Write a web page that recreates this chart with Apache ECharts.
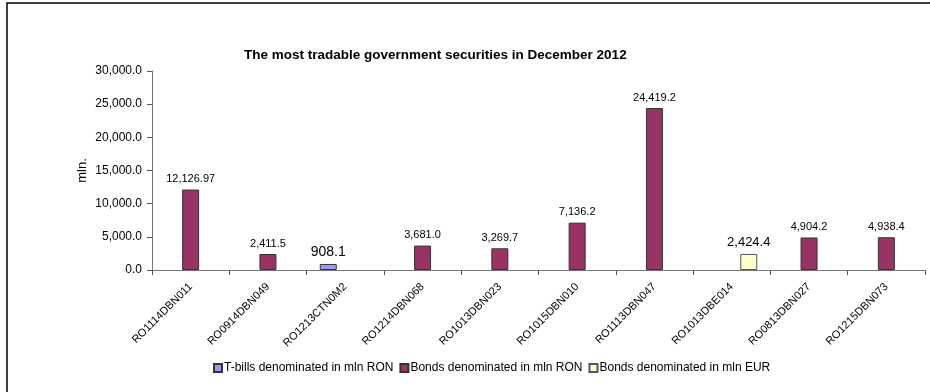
<!DOCTYPE html>
<html>
<head>
<meta charset="utf-8">
<script src="https://cdn.jsdelivr.net/npm/echarts@6/dist/echarts.min.js"></script>
<style>
  html, body { margin: 0; padding: 0; background: #fff; }
  #chart { width: 930px; height: 392px; }
</style>
</head>
<body>
<div id="chart"></div>
<script>
// Securities traded in December 2012 (mln.)
const categories = [
  'RO1114DBN011', 'RO0914DBN049', 'RO1213CTN0M2', 'RO1214DBN068', 'RO1013DBN023',
  'RO1015DBN010', 'RO1113DBN047', 'RO1013DBE014', 'RO0813DBN027', 'RO1215DBN073'
];
const seriesNames = [
  'T-bills denominated in mln RON',
  'Bonds denominated in mln RON',
  'Bonds denominated in mln EUR'
];
const tbillsRon = [null, null, 908.1, null, null, null, null, null, null, null];
const bondsRon = [12126.97, 2411.5, null, 3681.0, 3269.7, 7136.2, 24419.2, null, 4904.2, 4938.4];
const bondsEur = [null, null, null, null, null, null, null, 2424.4, null, null];
const yTicks = [0, 5000, 10000, 15000, 20000, 25000, 30000];

const FONT = '"Liberation Sans", Arial, sans-serif';

function fmt(v, minDec) {
  const s = String(v);
  const dec = s.indexOf('.') >= 0 ? s.length - s.indexOf('.') - 1 : 0;
  const d = Math.max(minDec, dec);
  return Number(v).toLocaleString('en-US', { minimumFractionDigits: d, maximumFractionDigits: d });
}

const chart = echarts.init(document.getElementById('chart'), null, { renderer: 'canvas' });

function barSeries(name, data, color, border, labelSize) {
  return {
    name: name,
    type: 'bar',
    data: data,
    barWidth: 17,
    barGap: '0%',
    itemStyle: { color: color, borderColor: border, borderWidth: 1 },
    label: {
      show: true,
      position: 'top',
      distance: 5,
      color: '#000',
      fontFamily: FONT,
      fontSize: labelSize,
      formatter: p => fmt(p.value, 1)
    }
  };
}

chart.setOption({
  animation: false,
  backgroundColor: '#fff',
  textStyle: { fontFamily: FONT },
  graphic: [{
    type: 'rect',
    shape: { x: 7, y: 3, width: 1000, height: 1000 },
    style: { fill: 'none', stroke: '#000', lineWidth: 1.5 },
    silent: true
  }],
  title: {
    text: 'The most tradable government securities in December 2012',
    left: 244,
    top: 48,
    padding: 0,
    textStyle: { fontFamily: FONT, fontSize: 13.5, fontWeight: 'bold', color: '#000' }
  },
  legend: {
    left: 213,
    top: 362,
    padding: 0,
    itemWidth: 8,
    itemHeight: 8,
    itemGap: 6,
    icon: 'rect',
    textStyle: { fontFamily: FONT, fontSize: 12, color: '#000', padding: [0, 0, 0, -3] },
    data: seriesNames
  },
  grid: { left: 152, right: 5, top: 71, bottom: 122, containLabel: false },
  xAxis: {
    type: 'category',
    data: categories,
    boundaryGap: true,
    axisLine: { lineStyle: { color: '#777', width: 1 } },
    axisTick: { show: true, alignWithLabel: false, length: 5, lineStyle: { color: '#555' } },
    axisLabel: {
      rotate: 45,
      interval: 0,
      margin: 15,
      fontFamily: FONT,
      fontSize: 11,
      color: '#000'
    }
  },
  yAxis: {
    type: 'value',
    min: yTicks[0],
    max: yTicks[yTicks.length - 1],
    interval: yTicks[1] - yTicks[0],
    name: 'mln.',
    nameLocation: 'middle',
    nameGap: 63,
    nameMoveOverlap: false,
    nameRotate: 90,
    nameTextStyle: { fontFamily: FONT, fontSize: 13, color: '#000' },
    splitLine: { show: false },
    axisLine: { show: true, lineStyle: { color: '#777', width: 1 } },
    axisTick: { show: true, length: 5, lineStyle: { color: '#555' } },
    axisLabel: {
      margin: 10,
      fontFamily: FONT,
      fontSize: 12,
      color: '#000',
      formatter: v => fmt(v, 1)
    }
  },
  series: [
    barSeries(seriesNames[0], tbillsRon, '#9999FF', '#333', 14),
    barSeries(seriesNames[1], bondsRon, '#993366', '#333', 11),
    barSeries(seriesNames[2], bondsEur, '#FFFFCC', '#555', 13)
  ]
});
</script>
</body>
</html>
